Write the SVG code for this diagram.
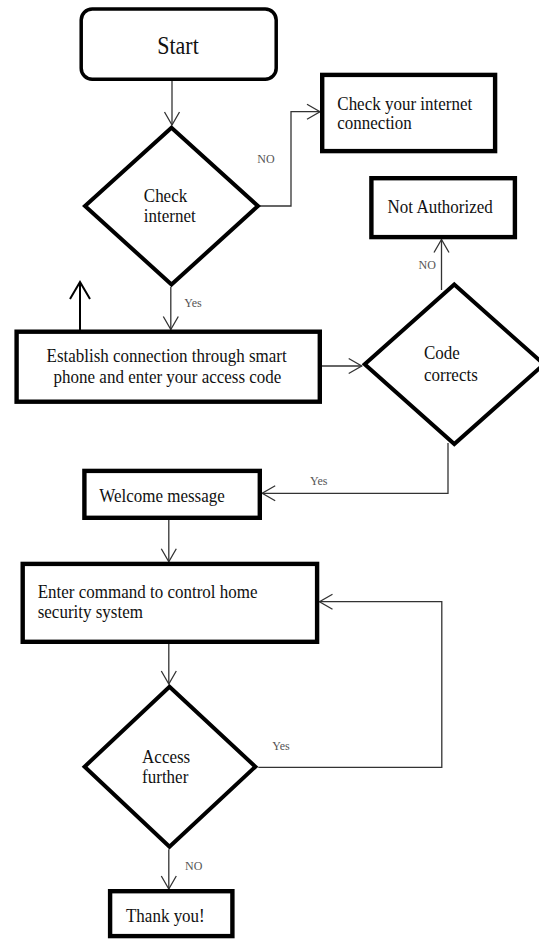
<svg xmlns="http://www.w3.org/2000/svg" width="539" height="939" viewBox="0 0 539 939">
<style>
.box{fill:#fff;stroke:#000;stroke-width:4.4;stroke-linejoin:miter}
.dia{fill:#fff;stroke:#000;stroke-width:4;stroke-linejoin:miter}
.t{font-family:"Liberation Serif","Times New Roman",serif;font-size:17px;fill:#111}
.c{text-anchor:middle}
.lbl{font-family:"Liberation Serif","Times New Roman",serif;font-size:12px;fill:#555}
.con{fill:none;stroke:#333;stroke-width:1.3}
.up{fill:none;stroke:#000;stroke-width:2}
</style>
<defs>
<marker id="arr" markerUnits="userSpaceOnUse" markerWidth="20" markerHeight="20" viewBox="-16 -10 20 20" refX="0" refY="0" orient="auto">
<path d="M-13,-7.5 L0,0 L-13,7.5" fill="none" stroke="#333" stroke-width="1.3"/>
</marker>
<marker id="arrBig" markerUnits="userSpaceOnUse" markerWidth="24" markerHeight="24" viewBox="-20 -12 24 24" refX="0" refY="0" orient="auto">
<path d="M-17,-10 L0,0 L-17,10" fill="none" stroke="#000" stroke-width="2"/>
</marker>
</defs>
<g id="connectors">
<path class="con" d="M172,81 V125" marker-end="url(#arr)"/>
<path class="con" d="M259,206 H291 V111.7 H320" marker-end="url(#arr)"/>
<path class="con" d="M170.8,287 V329.5" marker-end="url(#arr)"/>
<path class="up" d="M80,330 V282" marker-end="url(#arrBig)"/>
<path class="con" d="M322,366 H361.7" marker-end="url(#arr)"/>
<path class="con" d="M441.5,290 V239.5" marker-end="url(#arr)"/>
<path class="con" d="M448,443 V493.3 H262.2" marker-end="url(#arr)"/>
<path class="con" d="M168.8,520 V561.7" marker-end="url(#arr)"/>
<path class="con" d="M168.8,644 V684" marker-end="url(#arr)"/>
<path class="con" d="M258.3,767.3 H441.8 V601.7 H319.5" marker-end="url(#arr)"/>
<path class="con" d="M168.8,849.3 V889" marker-end="url(#arr)"/>
<text class="lbl" x="257.3" y="162.5">NO</text>
<text class="lbl" x="418.5" y="269">NO</text>
<text class="lbl" x="184.3" y="307">Yes</text>
<text class="lbl" x="310" y="485">Yes</text>
<text class="lbl" x="272.3" y="750">Yes</text>
<text class="lbl" x="185" y="870">NO</text>
</g>
<g id="start">
<rect x="81.2" y="9" width="195" height="70.3" rx="11" fill="#fff" stroke="#000" stroke-width="3.5"/>
<text class="t c" style="font-size:22px" transform="matrix(1 0 0 1.12 178 54.3)">Start</text>
</g>
<g id="check-internet">
<polygon class="dia" points="171.5,127.7 258,206 171.5,284.5 85,206"/>
<text class="t" transform="matrix(1 0 0 1.12 143.8 201.7)">Check</text>
<text class="t" transform="matrix(1 0 0 1.12 143.8 221.7)">internet</text>
</g>
<g id="check-connection">
<rect class="box" x="322.2" y="74.9" width="172.9" height="76.2"/>
<text class="t" transform="matrix(1 0 0 1.12 337.3 110)">Check your internet</text>
<text class="t" transform="matrix(1 0 0 1.12 337.3 129.3)">connection</text>
</g>
<g id="not-authorized">
<rect class="box" x="371.4" y="178.2" width="143.5" height="58.9"/>
<text class="t c" transform="matrix(1 0 0 1.12 440.2 213.3)">Not Authorized</text>
</g>
<g id="establish">
<rect class="box" x="16.6" y="331.7" width="303.2" height="70"/>
<text class="t c" transform="matrix(1 0 0 1.12 166.6 361.7)">Establish connection through smart</text>
<text class="t c" transform="matrix(1 0 0 1.12 167.5 383.3)">phone and enter your access code</text>
</g>
<g id="code-corrects">
<polygon class="dia" points="454.3,284.5 543.9,364.3 454.3,444 364.7,364.3"/>
<text class="t" transform="matrix(1 0 0 1.12 424 359.3)">Code</text>
<text class="t" transform="matrix(1 0 0 1.12 424 380.7)">corrects</text>
</g>
<g id="welcome">
<rect class="box" x="84.4" y="470.9" width="175.4" height="46.9"/>
<text class="t" transform="matrix(1 0 0 1.12 99.3 501.7)">Welcome message</text>
</g>
<g id="enter-command">
<rect class="box" x="22.7" y="563.9" width="294.4" height="77.9"/>
<text class="t" transform="matrix(1 0 0 1.12 37.7 598.3)">Enter command to control home</text>
<text class="t" transform="matrix(1 0 0 1.12 37.7 618.3)">security system</text>
</g>
<g id="access-further">
<polygon class="dia" points="169.5,686.7 255.4,766.7 169.5,846.7 84.6,766.7"/>
<text class="t" transform="matrix(1 0 0 1.12 142.1 763.3)">Access</text>
<text class="t" transform="matrix(1 0 0 1.12 142.1 782.7)">further</text>
</g>
<g id="thank-you">
<rect class="box" x="110.1" y="891.2" width="122.3" height="44.9"/>
<text class="t" transform="matrix(1 0 0 1.12 126 921.7)">Thank you!</text>
</g>
</svg>
